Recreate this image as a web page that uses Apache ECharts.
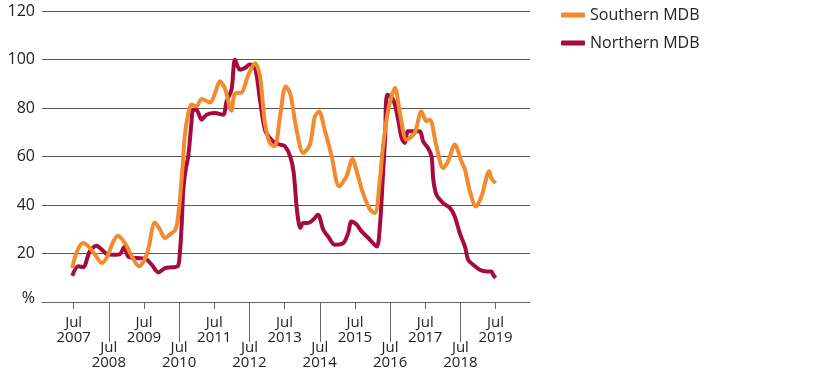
<!DOCTYPE html>
<html><head><meta charset="utf-8">
<script src="https://cdn.jsdelivr.net/npm/echarts@6/dist/echarts.min.js"></script>
<style>html,body{margin:0;padding:0;background:#fff}#c{width:816px;height:391px}</style>
</head><body><div id="c"></div>
<script>
var seriesNames = ['Southern MDB', 'Northern MDB'];
var southDates = [2007.46,2007.6,2007.77,2007.95,2008.11,2008.30,2008.45,2008.6,2008.75,2008.96,2009.15,2009.36,2009.5,2009.62,2009.81,2009.95,2010.10,2010.25,2010.38,2010.45,2010.52,2010.6,2010.66,2010.75,2010.85,2010.99,2011.14,2011.38,2011.52,2011.66,2011.80,2011.99,2012.06,2012.13,2012.28,2012.45,2012.66,2012.80,2012.94,2013.08,2013.22,2013.37,2013.53,2013.66,2013.84,2014.03,2014.22,2014.36,2014.48,2014.64,2014.84,2015.05,2015.26,2015.43,2015.55,2015.73,2015.93,2016.07,2016.21,2016.30,2016.45,2016.64,2016.78,2016.97,2017.20,2017.39,2017.53,2017.63,2017.82,2018.01,2018.15,2018.34,2018.53,2018.63,2018.77,2018.94,2019.10,2019.32,2019.38,2019.50];
var southValues = [14.0,21,24.3,22.5,19.5,16.1,18.5,24,27.3,24.3,19,14.7,17,21.6,32.8,30,26.4,28,29.5,33,42,56,68.3,77,81.4,80.7,83.7,82.3,86,91,88.2,78.9,85,86.2,86.4,93,98.5,93,73.8,65.6,64.2,76.5,88.9,86,71,61.4,64.9,76.5,78.6,71,60,47.7,51.8,59,53.9,44.9,38.1,36.7,50.4,64.2,79.3,88.2,78,66.9,69.7,78.6,74.5,75.2,64.2,55.3,58,64.9,58,54.6,45.6,39.4,43.5,53.9,51.1,49];
var northDates = [2007.46,2007.63,2007.77,2007.96,2008.15,2008.30,2008.44,2008.63,2008.82,2008.94,2009.05,2009.29,2009.53,2009.72,2009.91,2010.10,2010.29,2010.46,2010.52,2010.57,2010.62,2010.69,2010.76,2010.85,2010.90,2010.99,2011.14,2011.28,2011.52,2011.75,2011.85,2011.99,2012.09,2012.23,2012.37,2012.51,2012.66,2012.80,2012.94,2013.08,2013.22,2013.37,2013.51,2013.66,2013.76,2013.85,2013.95,2014.03,2014.17,2014.31,2014.45,2014.60,2014.74,2014.93,2015.17,2015.31,2015.40,2015.55,2015.69,2015.88,2016.12,2016.21,2016.29,2016.36,2016.42,2016.59,2016.73,2016.83,2016.92,2017.01,2017.20,2017.35,2017.44,2017.58,2017.68,2017.73,2017.82,2018.01,2018.20,2018.34,2018.48,2018.63,2018.72,2018.86,2019.05,2019.24,2019.38,2019.43,2019.50];
var northValues = [10.8,14.7,14.4,20.9,23.2,21.6,19.8,19.5,19.8,22.7,18.8,18.1,17.9,15.4,12.2,14,14.3,14.7,20,31,46.3,55,60,73.8,79.3,79.3,75.2,77.2,77.9,77.2,82.7,87.5,99.9,95.8,96.5,97.9,96.5,83.4,71,67.6,65.6,64.9,64.2,60,53.2,38.1,30.5,32.6,32.6,33.9,36,29.8,27,23.6,24.3,28.5,33.2,31.9,29.1,26.4,22.9,31.2,50.4,68.3,85.5,83.4,75.2,67.6,65.6,70.4,70.4,70.4,66.2,63.5,60,50.4,44.2,40.8,38.8,35.3,28.5,22.9,17.4,15.4,13.3,12.6,12.6,11.3,9.9];
var oddTicks = [2007.5, 2009.5, 2011.5, 2013.5, 2015.5, 2017.5, 2019.5];
var evenTicks = [2008.5, 2010.5, 2012.5, 2014.5, 2016.5, 2018.5];

function pairs(d, v) { return d.map(function (x, i) { return [x, v[i]]; }); }
var FONT = 'Open Sans';
var xMin = 2006.6, xMax = 2020.48;
function lab(v) { return 'Jul\n' + Math.floor(v); }

var chart = echarts.init(document.getElementById('c'), null, {renderer: 'canvas'});
chart.setOption({
  animation: false,
  backgroundColor: '#fff',
  textStyle: {fontFamily: FONT},
  grid: {left: 42, right: 286, top: 11, bottom: 89},
  legend: {
    data: seriesNames, orient: 'vertical', left: 556, top: 1,
    icon: 'roundRect', itemWidth: 24, itemHeight: 5, itemGap: 10,
    textStyle: {fontFamily: FONT, fontSize: 16, color: '#222', lineHeight: 18}
  },
  xAxis: [{
    type: 'value', min: xMin, max: xMax, position: 'bottom',
    axisLine: {show: true, lineStyle: {color: '#666', width: 1}},
    axisTick: {show: true, customValues: oddTicks, length: 7, lineStyle: {color: '#666'}},
    axisLabel: {customValues: oddTicks, formatter: lab, margin: 13, fontFamily: FONT, fontSize: 15, lineHeight: 15, color: '#222'},
    splitLine: {show: false}
  }, {
    type: 'value', min: xMin, max: xMax, position: 'bottom',
    axisLine: {show: false},
    axisTick: {show: true, customValues: evenTicks, length: 40, lineStyle: {color: '#666'}},
    axisLabel: {customValues: evenTicks, formatter: lab, margin: 38, fontFamily: FONT, fontSize: 15, lineHeight: 15, color: '#222'},
    splitLine: {show: false}
  }],
  yAxis: {
    type: 'value', min: 0, max: 120, interval: 20,
    axisLine: {show: false}, axisTick: {show: false},
    axisLabel: {
      formatter: function (v) { return v === 0 ? '{p|%}' : String(v); },
      margin: 7, fontFamily: FONT, fontSize: 16, color: '#222',
      rich: {p: {fontFamily: FONT, fontSize: 16, color: '#222', padding: [0, 0, 8, 0]}}
    },
    splitLine: {show: true, lineStyle: {color: '#555', width: 1}}
  },
  series: [{
    name: 'Northern MDB', type: 'line', xAxisIndex: 0, data: pairs(northDates, northValues),
    showSymbol: false, symbol: 'none', smooth: 0.3,
    lineStyle: {color: '#A50B3C', width: 4}, itemStyle: {color: '#A50B3C'}
  }, {
    name: 'Southern MDB', type: 'line', xAxisIndex: 0, data: pairs(southDates, southValues),
    showSymbol: false, symbol: 'none', smooth: 0.3,
    lineStyle: {color: '#F28A2E', width: 4}, itemStyle: {color: '#F28A2E'}
  }]
});
</script></body></html>
